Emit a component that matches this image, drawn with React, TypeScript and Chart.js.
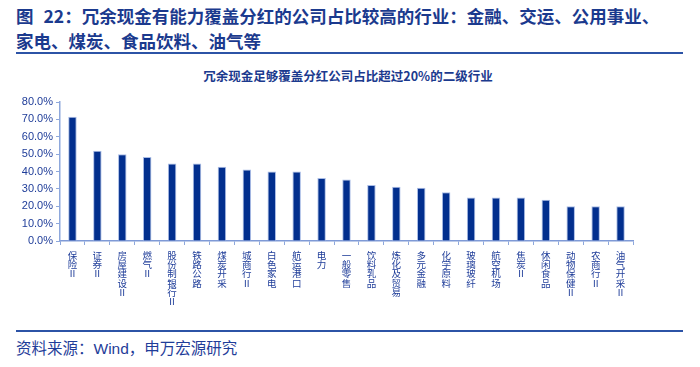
import React, { useEffect, useRef } from "react";
import { Chart, registerables } from "chart.js";

Chart.register(...registerables);

const categories: string[] = [
  "保险Ⅱ", "证券Ⅱ", "房屋建设Ⅱ", "燃气Ⅱ", "股份制银行Ⅱ", "铁路公路", "煤炭开采", "城商行Ⅱ",
  "白色家电", "航运港口", "电力", "一般零售", "饮料乳品", "炼化及贸易", "多元金融", "化学原料",
  "玻璃玻纤", "航空机场", "焦炭Ⅱ", "休闲食品", "动物保健Ⅱ", "农商行Ⅱ", "油气开采Ⅱ",
];

const shareValues: number[] = [
  71.5, 52.0, 50.0, 48.3, 44.6, 44.6, 42.7, 41.2, 40.0, 40.0, 36.2, 35.4,
  32.3, 31.2, 30.6, 28.1, 25.0, 25.0, 25.0, 23.8, 20.0, 20.0, 20.0,
];

const yTicks: number[] = [0, 10, 20, 30, 40, 50, 60, 70, 80];

const figNo = "图";
const mainTitle1 = "22：冗余现金有能力覆盖分红的公司占比较高的行业：金融、交运、公用事业、";
const mainTitle2 = "家电、煤炭、食品饮料、油气等";
const chartTitle = "冗余现金足够覆盖分红公司占比超过20%的二级行业";
const sourceText = "资料来源：Wind，申万宏源研究";

const TEXT_BLUE = "#1f3d99";
const FONT = "'Liberation Sans', 'Noto Sans CJK SC', sans-serif";
const CJK = "'Noto Sans CJK SC', 'Liberation Sans', sans-serif";

export default function App() {
  const canvasRef = useRef<HTMLCanvasElement | null>(null);

  useEffect(() => {
    document.body.style.margin = "0";
    const ctx = canvasRef.current;
    if (!ctx) return;
    const chart = new Chart(ctx, {
      type: "bar",
      data: {
        labels: categories.map((c) => Array.from(c)),
        datasets: [
          {
            data: shareValues,
            backgroundColor: "#022f8e",
            borderColor: "#a9bce6",
            borderWidth: 1,
            barPercentage: 0.34,
            categoryPercentage: 1,
          },
        ],
      },
      options: {
        animation: false,
        responsive: false,
        maintainAspectRatio: false,
        layout: { padding: { left: 0, right: 67, top: 12, bottom: 0 } },
        plugins: {
          legend: { display: false },
          tooltip: { enabled: false },
          title: { display: false },
        },
        scales: {
          x: {
            grid: {
              display: true,
              drawOnChartArea: false,
              drawTicks: true,
              tickLength: 4,
              color: "#8ea8dc",
            },
            border: { display: true, color: "#7f9ad6", width: 1.5 },
            ticks: {
              autoSkip: false,
              maxRotation: 0,
              minRotation: 0,
              padding: 6,
              color: TEXT_BLUE,
              font: { family: CJK, size: 9.5, lineHeight: 0.96 },
            },
            afterFit: (scale: any) => {
              scale.height = 70;
            },
          },
          y: {
            min: 0,
            max: 80,
            afterBuildTicks: (scale: any) => {
              scale.ticks = yTicks.map((v) => ({ value: v }));
            },
            grid: {
              display: true,
              drawOnChartArea: false,
              drawTicks: true,
              tickLength: 4,
              color: "#8ea8dc",
            },
            border: { display: true, color: "#8ea8dc", width: 1.5 },
            ticks: {
              padding: 3,
              color: TEXT_BLUE,
              font: { family: FONT, size: 11 },
              callback: (v: any) => Number(v).toFixed(1) + "%",
            },
            afterFit: (scale: any) => {
              scale.width = 60;
            },
          },
        },
      },
    });
    return () => chart.destroy();
  }, []);

  return (
    <div style={{ position: "relative", width: 700, height: 367, background: "#fff", overflow: "hidden" }}>
      <div
        style={{
          position: "absolute",
          left: 16,
          top: 2.5,
          fontFamily: CJK,
          fontWeight: 700,
          fontSize: 17.5,
          lineHeight: "25px",
          color: "#1b3a8e",
          whiteSpace: "pre",
        }}
      >
        <div>
          {figNo}
          <span style={{ marginLeft: 10 }}>{mainTitle1}</span>
        </div>
        <div>{mainTitle2}</div>
      </div>
      <div style={{ position: "absolute", left: 16, top: 51.5, width: 667, height: 2, background: "#2c53a6" }} />
      <div
        style={{
          position: "absolute",
          left: 0,
          width: 696,
          top: 66,
          textAlign: "center",
          fontFamily: CJK,
          fontWeight: 700,
          fontSize: 12.5,
          color: "#1b3a8e",
          whiteSpace: "nowrap",
        }}
      >
        {chartTitle}
      </div>
      <div style={{ position: "absolute", left: 0, top: 90, width: 700, height: 221 }}>
        <canvas ref={canvasRef} width={700} height={221} style={{ width: 700, height: 221 }} />
      </div>
      <div style={{ position: "absolute", left: 16, top: 330, width: 667, height: 2, background: "#2c53a6" }} />
      <div
        style={{
          position: "absolute",
          left: 16,
          top: 338.5,
          fontFamily: FONT,
          fontSize: 15.5,
          lineHeight: "20px",
          color: TEXT_BLUE,
          whiteSpace: "nowrap",
        }}
      >
        {sourceText}
      </div>
    </div>
  );
}
